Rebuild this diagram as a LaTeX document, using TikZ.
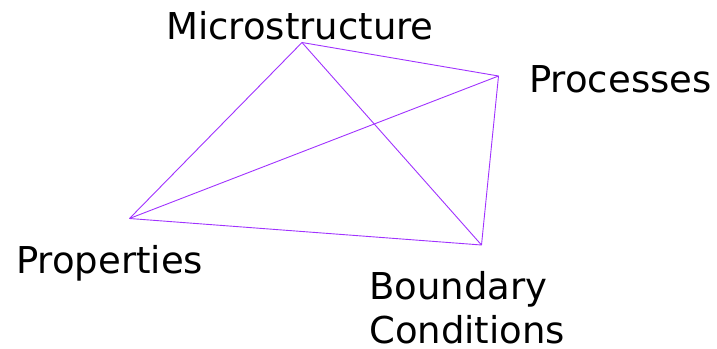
\documentclass[tikz,border=0pt]{standalone}
\usepackage{fontspec}
\setmainfont{DejaVu Sans}
\usetikzlibrary{positioning}
\definecolor{MSPurple}{RGB}{160,50,255}

\begin{document}
\begin{tikzpicture}[x=1pt, y=-1pt,
      lbl/.style={font=\fontsize{37}{44}\selectfont, inner sep=0pt,
                  anchor=base west, align=left},
      link/.style={MSPurple, line width=0.9pt}
    ]
    \useasboundingbox (0,0) rectangle (717,348);

    % Corners
    \coordinate (ms) at (302,42.5);
    \coordinate (pc) at (498.5,76);
    \coordinate (pp) at (129.5,218.5);
    \coordinate (bc) at (481.5,245);

    % Every corner joined to every other
    \foreach \a/\b in {ms/pc, ms/pp, ms/bc, pc/pp, pc/bc, pp/bc} {
      \draw[link] (\a) -- (\b);
    }

    % Labels
    \node[lbl] (mslbl) at (166,39) {Microstructure};
    \node[lbl] (pclbl) at (529,92.5) {Processes};
    \node[lbl] (pplbl) at (16,273) {Properties};
    \node[lbl] (bclbl) at (369,343) {Boundary\\Conditions};
  \end{tikzpicture}
\end{document}
